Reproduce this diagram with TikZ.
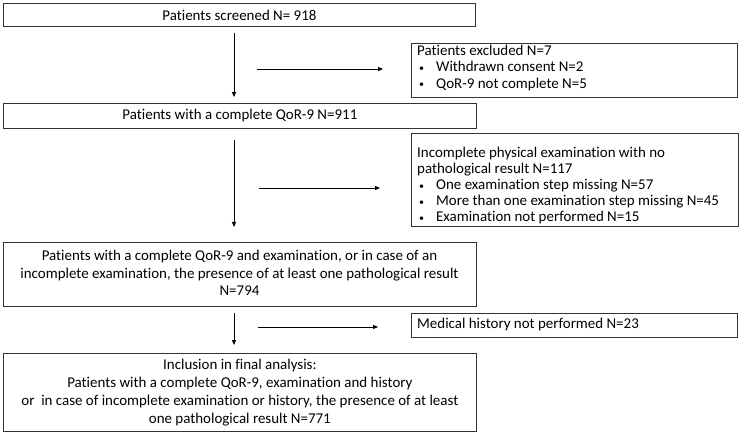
\documentclass[tikz,border=0pt]{standalone}
\usepackage{fontspec}
\setmainfont{Carlito}[Ligatures=NoCommon]
\usetikzlibrary{arrows.meta}
\tikzset{
  box/.style={draw=black!80, line width=0.8pt, inner sep=0pt, anchor=north west},
  txt/.style={inner sep=0pt, font=\fontsize{14.95}{16.5}\selectfont},
  flow/.style={draw=black, line width=0.8pt, -{Triangle[length=5pt,width=4pt]}},
}
\newcommand{\bul}{\hspace*{2pt}\makebox[17pt][l]{\raisebox{0.5pt}{\fontsize{10}{10}\selectfont\textbullet}}}
\begin{document}
\begin{tikzpicture}[x=1pt,y=-1pt]
\useasboundingbox (0,0) rectangle (740,433);
% boxes
\node[box, minimum width=472pt, minimum height=23pt] (b1) at (3,3) {};
\node[txt] (t1) at (b1.center) {Patients screened N= 918};
\node[box, minimum width=326pt, minimum height=54pt] (b2) at (411,43) {};
\node[txt, anchor=north west, align=left] (t2) at (417,44.5) {Patients excluded N=7\\\bul Withdrawn consent N=2\\\bul QoR-9 not complete N=5};
\node[box, minimum width=473pt, minimum height=25pt] (b3) at (3,103) {};
\node[txt] (t3) at (b3.center) {Patients with a complete QoR-9 N=911};
\node[box, minimum width=327pt, minimum height=93pt] (b4) at (411,133) {};
\node[txt, anchor=north west, align=left, font=\fontsize{14.95}{16}\selectfont] (t4) at (417,147) {Incomplete physical examination with no\\pathological result N=117\\\bul One examination step missing N=57\\\bul More than one examination step missing N=45\\\bul Examination not performed N=15};
\node[box, minimum width=473pt, minimum height=64pt] (b5) at (3,242) {};
\node[txt, align=center, font=\fontsize{14.95}{17.5}\selectfont] (t5) at (239.5,273) {Patients with a complete QoR-9 and examination, or in case of an\\incomplete examination, the presence of at least one pathological result\\N=794};
\node[box, minimum width=326pt, minimum height=24pt] (b6) at (411,313) {};
\node[txt, anchor=west] (t6) at (417,325) {Medical history not performed N=23};
\node[box, minimum width=473pt, minimum height=78pt] (b7) at (3,353) {};
\node[txt, align=center, font=\fontsize{14.95}{18}\selectfont] (t7) at (b7.center) {Inclusion in final analysis:\\Patients with a complete QoR-9, examination and history\\or\ \ in case of incomplete examination or history, the presence of at least\\one pathological result N=771};
% arrow end points
\coordinate (v1a) at (234,33); \coordinate (v1b) at (234,97);
\coordinate (h1a) at (257,69); \coordinate (h1b) at (383,69);
\coordinate (v2a) at (234,140); \coordinate (v2b) at (234,227);
\coordinate (h2a) at (259,188); \coordinate (h2b) at (380,188);
\coordinate (v3a) at (234,313); \coordinate (v3b) at (234,345);
\coordinate (h3a) at (258,327); \coordinate (h3b) at (378,327);
\draw[flow] (v1a) -- (v1b);
\draw[flow] (h1a) -- (h1b);
\draw[flow] (v2a) -- (v2b);
\draw[flow] (h2a) -- (h2b);
\draw[flow] (v3a) -- (v3b);
\draw[flow] (h3a) -- (h3b);
\end{tikzpicture}
\end{document}
